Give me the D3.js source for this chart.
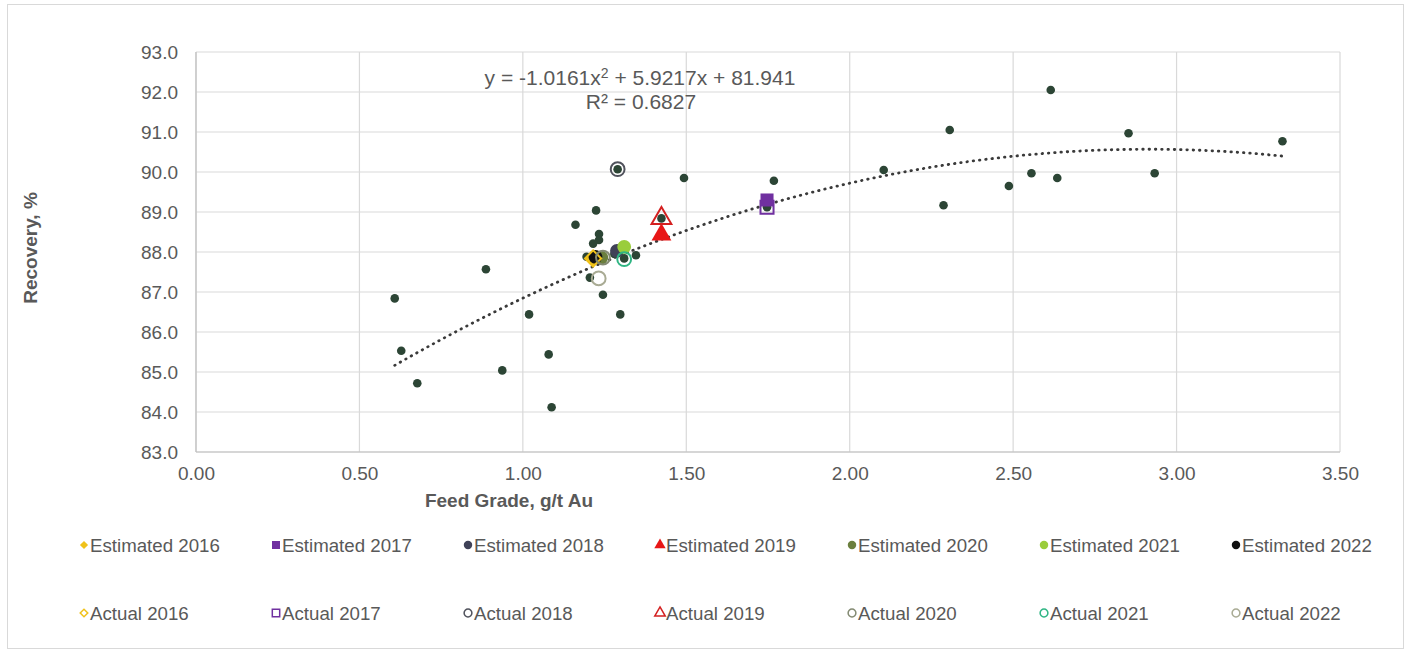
<!DOCTYPE html>
<html><head><meta charset="utf-8">
<script src="https://cdn.jsdelivr.net/npm/d3@7"></script>
<style>body{margin:0;background:#fff}svg{display:block}text{font-family:"Liberation Sans",Arial,sans-serif}</style>
</head><body><svg id="c" width="1411" height="653"></svg>
<script>
// Historical monthly points (feed grade g/t Au, recovery %)
const histGrade = [0.608,0.628,0.677,0.887,0.937,1.019,1.079,1.088,1.161,1.224,1.233,1.233,1.215,1.205,1.245,1.298,1.346,1.195,1.290,1.493,1.768,2.104,2.306,2.287,2.487,2.556,2.615,2.853,2.635,2.933,3.324,1.424,1.747,1.222,1.310,1.280];
const histRec   = [86.84,85.53,84.72,87.57,85.04,86.44,85.44,84.12,88.68,89.04,88.45,88.30,88.21,87.36,86.93,86.44,87.92,87.88,90.07,89.85,89.78,90.05,91.05,89.17,89.65,89.97,92.05,90.97,89.85,89.97,90.77,88.84,89.12,87.84,87.84,87.95];

const years = ["2016","2017","2018","2019","2020","2021","2022"];
const estGrade = [1.212,1.747,1.288,1.424,1.240,1.310,1.222];
const estRec   = [87.84,89.30,88.03,88.43,87.86,88.13,87.88];
const actGrade = [1.215,1.747,1.290,1.424,1.245,1.310,1.232];
const actRec   = [87.84,89.12,90.07,88.84,87.86,87.82,87.34];
const yearColors = ["#f0c21a","#7030a0","#3f4157","#e81717","#6b7f3e","#9acd3c","#111111"];
const actColors  = ["#f0c21a","#7030a0","#50525c","#d42020","#838a72","#2fb583","#a9ab94"];
const yearShapes = ["diamond","square","circle","triangle","circle","circle","circle"];

const xTicks = [0,0.5,1,1.5,2,2.5,3,3.5];
const yTicks = [83,84,85,86,87,88,89,90,91,92,93];
const trendCoef = {a:-1.0161, b:5.9217, c:81.941};
const equationText = ["y = -1.0161x", "2", " + 5.9217x + 81.941"];
const r2Text = "R² = 0.6827";

const svg = d3.select("#c");
const L=196, R=1340, T=52, B=452;
const x = d3.scaleLinear().domain([0,3.5]).range([L,R]);
const y = d3.scaleLinear().domain([83,93]).range([B,T]);
const txt = "#595959", grid = "#d9d9d9";

svg.append("rect").attr("x",7.5).attr("y",4.5).attr("width",1396).attr("height",644)
  .attr("fill","#fff").attr("stroke","#d9d9d9");

// gridlines
svg.append("g").selectAll("line").data(yTicks).join("line")
  .attr("x1",L).attr("x2",R).attr("y1",d=>y(d)).attr("y2",d=>y(d))
  .attr("stroke",grid).attr("stroke-width",1.2);
svg.append("g").selectAll("line").data(xTicks).join("line")
  .attr("y1",T).attr("y2",B).attr("x1",d=>x(d)).attr("x2",d=>x(d))
  .attr("stroke",grid).attr("stroke-width",1.2);
svg.append("line").attr("x1",L).attr("x2",L).attr("y1",T).attr("y2",B).attr("stroke","#bfbfbf").attr("stroke-width",1.2);
svg.append("line").attr("x1",L).attr("x2",R).attr("y1",B).attr("y2",B).attr("stroke","#bfbfbf").attr("stroke-width",1.2);

// axes labels via d3 axes
const xAxis = svg.append("g").attr("transform",`translate(0,${B})`)
  .call(d3.axisBottom(x).tickValues(xTicks).tickFormat(d3.format(".2f")).tickSize(0).tickPadding(15));
const yAxis = svg.append("g").attr("transform",`translate(${L},0)`)
  .call(d3.axisLeft(y).tickValues(yTicks).tickFormat(d3.format(".1f")).tickSize(0).tickPadding(18));
[xAxis,yAxis].forEach(g=>{g.select(".domain").remove();
  g.selectAll("text").attr("fill",txt).style("font-size","19px").style("font-family","'Liberation Sans',Arial,sans-serif");});

svg.append("text").attr("x",509).attr("y",507).attr("text-anchor","middle")
  .attr("fill",txt).attr("font-weight","bold").style("font-size","19px").text("Feed Grade, g/t Au");
svg.append("text").attr("transform","translate(37,248) rotate(-90)").attr("text-anchor","middle")
  .attr("fill",txt).attr("font-weight","bold").style("font-size","19px").text("Recovery, %");

// trendline
const gMin = d3.min(histGrade), gMax = d3.max(histGrade);
const tx = d3.range(0,121).map(i=>gMin+(gMax-gMin)*i/120);
const line = d3.line().x(d=>x(d)).y(d=>y(trendCoef.a*d*d+trendCoef.b*d+trendCoef.c));
svg.append("path").attr("d",line(tx)).attr("fill","none").attr("stroke","#3a3a3a")
  .attr("stroke-width",2.8).attr("stroke-linecap","round").attr("stroke-dasharray","0.5,5.8");

// equation
const eq = svg.append("text").attr("x",640).attr("y",85).attr("text-anchor","middle").attr("fill",txt).style("font-size","21px");
eq.append("tspan").text(equationText[0]);
eq.append("tspan").attr("dy",-7).style("font-size","14px").text(equationText[1]);
eq.append("tspan").attr("dy",7).text(equationText[2]);
svg.append("text").attr("x",641).attr("y",109).attr("text-anchor","middle").attr("fill",txt).style("font-size","21px").text(r2Text);

// historical points
svg.append("g").selectAll("circle").data(histGrade.map((g,i)=>[g,histRec[i]])).join("circle")
  .attr("cx",d=>x(d[0])).attr("cy",d=>y(d[1])).attr("r",4.3).attr("fill","#2c4535");

const symType = {diamond:d3.symbolSquare, square:d3.symbolSquare, circle:d3.symbolCircle, triangle:d3.symbolTriangle};
const symSize = {diamond:130, square:170, circle:150, triangle:170};
const rot = sh => sh==="diamond" ? " rotate(45)" : "";
// estimated
years.forEach((yr,i)=>{
  const sh = yearShapes[i];
  svg.append("path").attr("d",d3.symbol(symType[sh],symSize[sh])())
    .attr("transform",`translate(${x(estGrade[i])},${y(estRec[i])})${rot(sh)}`).attr("fill",yearColors[i]);
});
// actual
years.forEach((yr,i)=>{
  const sh = yearShapes[i];
  svg.append("path").attr("d",d3.symbol(symType[sh],symSize[sh])())
    .attr("transform",`translate(${x(actGrade[i])},${y(actRec[i])})${rot(sh)}`).attr("fill","none")
    .attr("stroke",actColors[i]).attr("stroke-width",2);
});

// legend
const legX = d3.scaleLinear().domain([0,6]).range([84,1236]);
const legSize = {diamond:34, square:64, circle:56, triangle:56};
years.forEach((yr,i)=>{
  const sh = yearShapes[i];
  const g1 = svg.append("g").attr("transform",`translate(${legX(i)},545)`);
  g1.append("path").attr("d",d3.symbol(symType[sh],legSize[sh])()).attr("transform",rot(sh)).attr("fill",yearColors[i]);
  g1.append("text").attr("x",6).attr("y",7).attr("fill",txt).style("font-size","18.7px").text("Estimated "+yr);
  const g2 = svg.append("g").attr("transform",`translate(${legX(i)},613)`);
  g2.append("path").attr("d",d3.symbol(symType[sh],legSize[sh]*0.85)()).attr("transform",rot(sh)).attr("fill","none")
    .attr("stroke",actColors[i]).attr("stroke-width",1.5);
  g2.append("text").attr("x",6).attr("y",7).attr("fill",txt).style("font-size","18.7px").text("Actual "+yr);
});
</script></body></html>
